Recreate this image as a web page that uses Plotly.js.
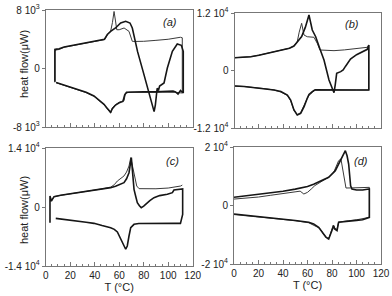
<!DOCTYPE html>
<html>
<head>
<meta charset="utf-8">
<script src="https://cdn.plot.ly/plotly-3.0.1.min.js"></script>
<style>html,body{margin:0;padding:0;background:#fff;}#chart{width:392px;height:296px;}</style>
</head>
<body>
<div id="chart"></div>
<script>
// ---------- data (T in °C, heat flow in µW) ----------
const Ta_thin = [7.5, 7.5, 9, 11, 15, 20, 26, 33, 40, 45, 48, 50.3, 53, 54.5, 55.8, 57, 58, 60, 64, 68, 70.7, 72, 80, 90, 100, 110, 111.5, 111.5, 105, 95, 85, 75, 68, 65, 64, 62, 60, 57, 54.4, 53, 50, 47.6, 43, 39.4, 33, 25.8, 20, 15, 11, 8.5];
const Qa_thin = [-1900, 2400, 2550, 2600, 2900, 3050, 3260, 3450, 3700, 3850, 3950, 4600, 5100, 6300, 7800, 6500, 5300, 5300, 5540, 5080, 3720, 3700, 3720, 3850, 4000, 4270, 4200, -3350, -3250, -3230, -3220, -3210, -3250, -3400, -4400, -4500, -4600, -4950, -5400, -6090, -5500, -4950, -4300, -3800, -3300, -2900, -2600, -2300, -2120, -1940];
const Ta_thick = [7.5, 7.5, 9, 11, 15, 20, 26, 33, 40, 45, 48, 50.3, 53, 57, 61.2, 65.3, 68.8, 70.7, 75, 80, 85, 88.5, 89.5, 91, 92, 93, 96.6, 99.3, 103.4, 107.4, 110.7, 112.3, 112.3, 110, 108, 106, 104, 100, 90, 80, 70, 66, 64.5, 63, 60, 57, 54.4, 53, 50, 47.6, 43, 39.4, 33, 25.8, 20, 15, 11, 8.5];
const Qa_thick = [-1800, 2600, 2650, 2700, 2950, 3100, 3300, 3500, 3720, 3900, 4000, 4650, 5080, 5540, 6220, 6450, 6220, 5540, 2300, -700, -3700, -5900, -5000, -2700, -3000, -2400, -1980, 70, 2350, 3350, 3170, 2350, -3350, -3000, -3500, -3200, -3100, -3150, -3200, -3180, -3190, -3250, -3600, -4500, -4700, -5000, -5500, -6000, -5400, -4900, -4250, -3750, -3250, -2850, -2550, -2250, -2100, -1900];

const Tb_thin = [0, 7, 13.3, 20, 26.9, 33, 40.5, 45, 48.7, 51.4, 53, 55, 56.9, 59.6, 65.1, 67.8, 70, 75, 81.5, 90, 100, 108.8, 110, 110, 100, 90, 80, 70, 66, 63.7, 61, 59.6, 57, 54.2, 51.4, 48.7, 46, 43.3, 38, 32.4, 25, 16, 8, 0];
const Qb_thin = [2670, 2750, 2880, 3200, 3590, 3900, 4280, 4650, 5110, 6010, 8000, 9850, 7410, 7050, 6930, 5670, 4280, 4200, 4140, 4300, 4550, 4840, 5320, -4070, -4070, -4070, -4070, -4050, -4100, -4600, -5200, -5810, -7400, -8800, -9250, -8300, -6300, -5200, -4500, -4070, -3800, -3510, -3350, -3230];
const Tb_thick = [0, 7, 13.3, 20, 26.9, 33, 40.5, 45, 48.7, 51.4, 55, 58, 61, 63.7, 66.5, 70, 73.3, 77.4, 80.1, 81.5, 82.5, 83.7, 87, 89, 91, 92.4, 95, 100, 105, 108.8, 110, 110, 100, 90, 80, 70, 66, 63.7, 61, 59.6, 57, 54.2, 51.4, 48.7, 46, 43.3, 38, 32.4, 25, 16, 8, 0];
const Qb_thick = [2670, 2750, 2880, 3200, 3590, 3900, 4280, 4650, 5110, 6010, 7100, 9000, 11580, 8450, 7050, 4500, 2190, -1980, -3920, -4630, -3000, -590, -240, 100, 900, 1500, 2400, 3300, 3900, 4420, 5320, -4070, -4070, -4070, -4070, -4070, -4050, -4420, -5000, -5810, -7550, -8940, -9290, -8240, -6160, -5110, -4400, -4070, -3800, -3510, -3330, -3230];

const Tc_thin = [4.6, 6.8, 12.2, 20, 25.8, 33, 39.4, 46, 53, 56, 58.5, 61, 63.9, 66, 68, 69.4, 70.5, 71.5, 73, 74.3, 76.2, 80, 90, 100, 105, 110.2, 111.5];
const Qc_thin = [1420, 2450, 2770, 3100, 3400, 3700, 4030, 4300, 4700, 5300, 6170, 6800, 7360, 8300, 9730, 11700, 10200, 8140, 6300, 4980, 4350, 4300, 4330, 4500, 4700, 4980, 5200];
const Tc_thick = [3.5, 3.5, 4.6, 6.8, 12.2, 20, 25.8, 33, 39.4, 46, 53, 57, 61.2, 63.9, 66, 68, 69.9, 71, 72.1, 73.5, 74.8, 76.5, 78, 80, 81.6, 85, 88.4, 93, 99.3, 102, 103.4, 104.7, 108, 110.5, 111.8, 111.8, 111, 110, 105, 100, 90, 80.2, 76, 72.1, 70.5, 69.4, 68, 66.6, 65.3, 64, 62.5, 60, 58.5, 56, 53, 46, 39.4, 33, 25.8, 18, 12, 8.2];
const Qc_thick = [-3720, 2610, 1420, 2450, 2770, 3100, 3400, 3700, 4030, 4300, 4590, 4900, 5380, 5770, 6700, 8140, 11700, 8500, 4190, 2500, 1030, 300, -160, 200, 630, 1500, 2210, 2700, 3010, 3200, 3400, 4030, 4100, 4190, 4300, -1740, -3000, -3880, -3880, -3880, -3880, -3880, -3900, -4110, -4500, -4900, -6880, -9250, -10030, -9200, -8070, -6800, -5930, -5300, -4900, -4400, -3880, -3600, -3320, -3000, -2800, -2690];

const Td_thin = [0, 10, 20, 30, 40, 50, 54, 57, 60, 63, 66, 71.8, 77.3, 81.4, 85.4, 87.3, 89.5, 91.4, 95, 100, 105, 110, 110.5, 110.5, 105, 100, 93.6, 88, 85.4, 84, 82, 81, 79.5, 77.8, 76.5, 74, 70, 65, 61, 50, 39.2, 25, 12, 0];
const Qd_thin = [2200, 2500, 2900, 3500, 4100, 4900, 4900, 3930, 4500, 5600, 6800, 8300, 9640, 11350, 15320, 15900, 9640, 5980, 6000, 6000, 6100, 6200, 6200, -4040, -4600, -4900, -5200, -5500, -5700, -8200, -7700, -6700, -8400, -10800, -11300, -10300, -7800, -6600, -5900, -5200, -4700, -4100, -3600, -3100];
const Td_thick = [0, 10, 20, 30, 40, 50, 55, 60, 65, 71.8, 77.3, 82.7, 86, 88.5, 90.9, 92.3, 93.6, 95.2, 96.3, 100, 105, 110, 110.5, 110.5, 105, 100, 93.6, 88, 85.4, 84.1, 82.2, 81.4, 80, 78.5, 77.3, 75, 73.2, 69.1, 65, 61, 50, 39.2, 25, 12, 0];
const Qd_thick = [2800, 3300, 3800, 4300, 4900, 5600, 6000, 6500, 7300, 8480, 9640, 11900, 14500, 17000, 18740, 17000, 14190, 6770, 5640, 5300, 5300, 5640, 5640, -4040, -4900, -5100, -5400, -5600, -5740, -8610, -8030, -6910, -8610, -10500, -11450, -10800, -9740, -7460, -6300, -5740, -5100, -4620, -4000, -3480, -2900];

const xTickVals = [0, 20, 40, 60, 80, 100, 120];
const xTickText = ["0", "20", "40", "60", "80", "100", "120"];
const yTickVals = {a: [-8000, 0, 8000], b: [-12000, 0, 12000], c: [-14000, 0, 14000], d: [-20000, 0, 20000]};
const yTickText = {
  a: ["-8 10<sup>3</sup>", "0", "8 10<sup>3</sup>"],
  b: ["-1.2 10<sup>4</sup>", "0", "1.2 10<sup>4</sup>"],
  c: ["-1.4 10<sup>4</sup>", "0", "1.4 10<sup>4</sup>"],
  d: ["-2 10<sup>4</sup>", "0", "2 10<sup>4</sup>"]
};
const panelLabels = ["(a)", "(b)", "(c)", "(d)"];
const yTitle = "heat flow(μW)";
const xTitle = "T (°C)";

// ---------- layout helpers ----------
const W = 392, H = 296;
const fx = p => p / W;
const fy = p => 1 - p / H;

const thin = {color: '#3a3a3a', width: 1};
const thick = {color: '#161616', width: 1.6};

function tr(x, y, xa, ya, line) {
  return {x: x, y: y, xaxis: xa, yaxis: ya, type: 'scatter', mode: 'lines', line: line, hoverinfo: 'skip', showlegend: false};
}

const data = [
  tr(Ta_thin, Qa_thin, 'x', 'y', thin), tr(Ta_thick, Qa_thick, 'x', 'y', thick),
  tr(Tb_thin, Qb_thin, 'x2', 'y2', thin), tr(Tb_thick, Qb_thick, 'x2', 'y2', thick),
  tr(Tc_thin, Qc_thin, 'x3', 'y3', thin), tr(Tc_thick, Qc_thick, 'x3', 'y3', thick),
  tr(Td_thin, Qd_thin, 'x4', 'y4', thin), tr(Td_thick, Qd_thick, 'x4', 'y4', thick)
];

const axColor = '#777';
function xax(dom, anchor, labels) {
  const a = {
    domain: dom, anchor: anchor, range: [0, 120], showgrid: false, zeroline: false,
    showline: true, linecolor: axColor, linewidth: 1, mirror: true,
    ticks: 'inside', ticklen: 4, tickcolor: axColor, tickwidth: 1,
    tickvals: xTickVals, ticktext: xTickText, showticklabels: labels,
    minor: {dtick: 5, ticks: 'inside', ticklen: 2, tickcolor: axColor},
    tickfont: {size: 10, color: '#222'}
  };
  if (labels) a.title = {text: xTitle, font: {size: 11, color: '#222'}, standoff: 1};
  return a;
}
function yax(dom, anchor, key) {
  const m = yTickVals[key][2];
  return {
    domain: dom, anchor: anchor, range: [-m, m], showgrid: false, zeroline: false,
    showline: true, linecolor: axColor, linewidth: 1, mirror: true,
    ticks: 'outside', ticklen: 3, tickcolor: axColor,
    tickvals: yTickVals[key], ticktext: yTickText[key],
    tickfont: {size: 10, color: '#222'}
  };
}

function ann(text, px, py, extra) {
  return Object.assign({text: text, xref: 'paper', yref: 'paper', x: fx(px), y: fy(py),
    xanchor: 'center', yanchor: 'middle', showarrow: false}, extra);
}

const layout = {
  width: W, height: H,
  margin: {l: 0, r: 0, t: 0, b: 0, pad: 0},
  paper_bgcolor: '#fff', plot_bgcolor: '#fff',
  font: {family: 'Liberation Sans, Arial, sans-serif', size: 10, color: '#222'},
  xaxis:  xax([fx(45.7), fx(192.7)], 'y', false),
  yaxis:  yax([fy(127), fy(10)], 'x', 'a'),
  xaxis2: xax([fx(234.5), fx(381)], 'y2', false),
  yaxis2: yax([fy(128), fy(13)], 'x2', 'b'),
  xaxis3: xax([fx(45.7), fx(192.7)], 'y3', true),
  yaxis3: yax([fy(266), fy(148)], 'x3', 'c'),
  xaxis4: xax([fx(234), fx(381)], 'y4', true),
  yaxis4: yax([fy(264), fy(147)], 'x4', 'd'),
  annotations: [
    ann(panelLabels[0], 170, 22, {font: {size: 11, style: 'italic'}}),
    ann(panelLabels[1], 352, 24, {font: {size: 11, style: 'italic'}}),
    ann(panelLabels[2], 172, 161, {font: {size: 11, style: 'italic'}}),
    ann(panelLabels[3], 361, 161, {font: {size: 11, style: 'italic'}}),
    ann(yTitle, 24, 64, {textangle: -90, font: {size: 11}}),
    ann(yTitle, 24, 210, {textangle: -90, font: {size: 11}})
  ]
};

Plotly.newPlot('chart', data, layout, {staticPlot: true, displayModeBar: false});
</script>
</body>
</html>
